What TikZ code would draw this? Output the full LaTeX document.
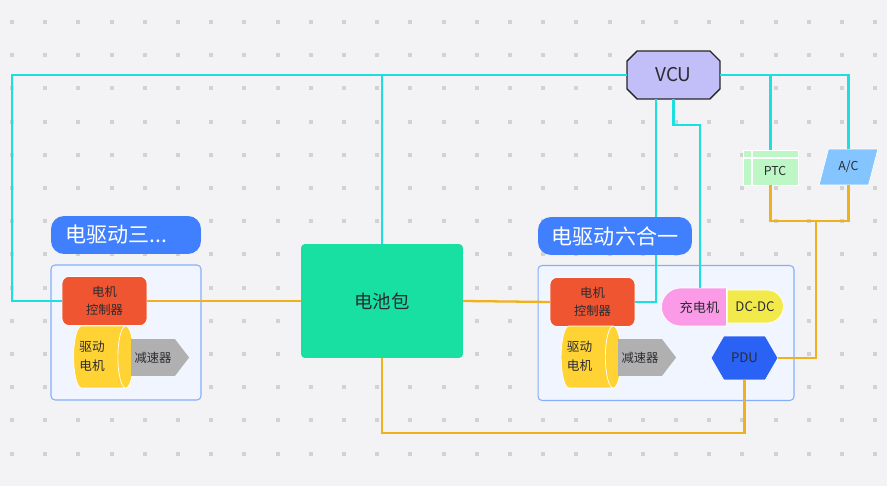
\documentclass[tikz,border=0pt]{standalone}
\usepackage{fontspec}
\setmainfont{Noto Sans CJK SC}
\usetikzlibrary{shapes.geometric, shapes.misc, shapes.symbols}
\definecolor{bgpage}{HTML}{F3F3F6}
\definecolor{griddot}{HTML}{D2D2D4}
\definecolor{wirecyan}{HTML}{1CDFE0}
\definecolor{wirepower}{HTML}{EFB21E}
\definecolor{txtdark}{HTML}{2B2B33}
\tikzset{
	every node/.style = {inner sep = 0pt, outer sep = 0pt, text = txtdark, align = center},
	grouptitle/.style = {rectangle, rounded corners = 0.26cm, minimum width = 3cm, minimum height = 0.76cm, fill = {rgb,255:red,64;green,128;blue,255}, text = white, font = \fontsize{12}{14}\selectfont},
	groupbox/.style = {rectangle, rounded corners = 0.08cm, draw = {rgb,255:red,133;green,174;blue,250}, line width = 0.6pt, fill = {rgb,255:red,241;green,245;blue,255}, minimum height = 2.7cm},
	ctrl/.style = {rectangle, rounded corners = 0.14cm, minimum width = 1.7cm, minimum height = 0.98cm, draw = white, fill = {rgb,255:red,238;green,85;blue,48}, font = \fontsize{7}{10}\selectfont},
	motor/.style = {cylinder, shape aspect = 0.4, minimum width = 1.24cm, minimum height = 1.2cm, draw = white, fill = {rgb,255:red,255;green,211;blue,51}, font = \fontsize{7.2}{11.2}\selectfont},
	reducer/.style = {signal, signal to = east, signal from = nowhere, signal pointer angle = 105, minimum width = 1.16cm, minimum height = 0.74cm, fill = {rgb,255:red,176;green,176;blue,176}, font = \fontsize{7}{9}\selectfont},
	wire/.style = {draw = wirecyan, line width = 1.3pt},
	power/.style = {draw = wirepower, line width = 1.3pt}
}

\begin{document}
\begin{tikzpicture}[x = 0.02cm, y = -0.02cm]

	%% background
	\fill [bgpage] (0,0) rectangle (887,486);
	\useasboundingbox (0,0) rectangle (887,486);
	\foreach \i in {0,...,26}
		\foreach \j in {0,...,13}
			\fill [griddot] ({10+33.2*\i},{20+33.2*\j}) rectangle +(4,4);

	%% group boxes
	\node (boxleft) [groupbox, minimum width = 3cm] at (126,332.5) {};
	\node (boxright) [groupbox, minimum width = 5.12cm] at (666,333) {};

	%% nodes
	\node (vcu) [chamfered rectangle, chamfered rectangle xsep = 0.1cm, chamfered rectangle ysep = 0.1cm, minimum width = 1.86cm, minimum height = 0.96cm, draw = black!85, line width = 0.8pt, fill = {rgb,255:red,194;green,190;blue,248}, font = \fontsize{10.8}{12}\selectfont] at (673.5,75) {VCU};
	\node (ptc) [rectangle, minimum width = 1.1cm, minimum height = 0.7cm, draw = white, fill = {rgb,255:red,189;green,247;blue,197}, font = \fontsize{7}{9}\selectfont] at (770.5,167.5) {\hspace*{0.18cm}\smash{\raisebox{-0.16cm}{PTC}}};
	\draw [white, line width = 0.6pt] (752,150) -- (752,185) (743,158) -- (798,158);
	\node (ac) [trapezium, trapezium stretches = true, trapezium left angle = 68.7, trapezium right angle = 111.3, minimum width = 1.18cm, minimum height = 0.72cm, draw = white, fill = {rgb,255:red,133;green,197;blue,255}, font = \fontsize{7}{9}\selectfont] at (848.5,167) {A/C};

	\node (battery) [rectangle, rounded corners = 0.08cm, minimum width = 3.24cm, minimum height = 2.28cm, fill = {rgb,255:red,24;green,223;blue,162}, font = \fontsize{10.5}{13}\selectfont] at (382,301) {电池包};

	\node (ctrlleft) [ctrl] at (104.5,301) {电机\\控制器};
	\node (motorleft) [motor] at (99.5,357) {\hspace*{-0.3cm}\begin{tabular}{@{}c@{}}驱动\\电机\end{tabular}};
	\node (reducerleft) [reducer] at (153,357.5) {减速器};

	\node (ctrlright) [ctrl] at (592.5,302) {电机\\控制器};
	\node (motorright) [motor] at (587,357) {\hspace*{-0.3cm}\begin{tabular}{@{}c@{}}驱动\\电机\end{tabular}};
	\node (reducerright) [reducer] at (640,357.5) {减速器};

	\node (charger) [rounded rectangle, rounded rectangle east arc = none, minimum width = 1.3cm, minimum height = 0.76cm, draw = white, fill = {rgb,255:red,251;green,155;blue,232}, font = \fontsize{7.5}{9}\selectfont] at (694.5,307) {\hspace*{0.2cm}充电机};
	\node (dcdc) [rounded rectangle, rounded rectangle west arc = none, minimum width = 1.12cm, minimum height = 0.66cm, draw = white, fill = {rgb,255:red,242;green,234;blue,75}, font = \fontsize{7.5}{9}\selectfont] at (755,306.5) {DC-DC};
	\node (pdu) [signal, signal to = east and west, signal pointer angle = 120, minimum width = 1.34cm, minimum height = 0.88cm, draw = white, fill = {rgb,255:red,41;green,98;blue,245}, font = \fontsize{7.5}{9}\selectfont] at (744.5,358) {PDU};

	\coordinate (chargerbend) at (700,125);
	\coordinate (junction) at (816,221);
	\coordinate (leftbend) at (12,75);
	\coordinate (bottombend) at (382,433);

	%% signal wires
	\draw [wire] (vcu.west) -- (leftbend) |- (ctrlleft.west);
	\draw [wire] (battery.north) -- (battery.north |- vcu.west);
	\draw [wire] ([xshift = -0.35cm]vcu.south) |- (ctrlright.east);
	\draw [wire] (vcu.south) |- (chargerbend) -- (chargerbend |- charger.north);
	\draw [wire] (vcu.east) -| (ptc.north);
	\draw [wire] (vcu.east) -| (ac.north);

	%% power wires
	\draw [power] (ctrlleft.east) -- (battery.west);
	\draw [power] (battery.east) -- (ctrlright.west);
	\draw [power] (battery.south) -- (bottombend) -| (pdu.south);
	\draw [power] (pdu.east) -| (junction);
	\draw [power] (ptc.south) |- (junction) -| (ac.south);

	%% titles sit on top of the wires
	\node (titleleft) [grouptitle] at (126,235) {\hspace*{-0.4cm}电驱动三...};
	\node (titleright) [grouptitle, minimum width = 3.08cm] at (615,236) {电驱动六合一};

\end{tikzpicture}
\end{document}
